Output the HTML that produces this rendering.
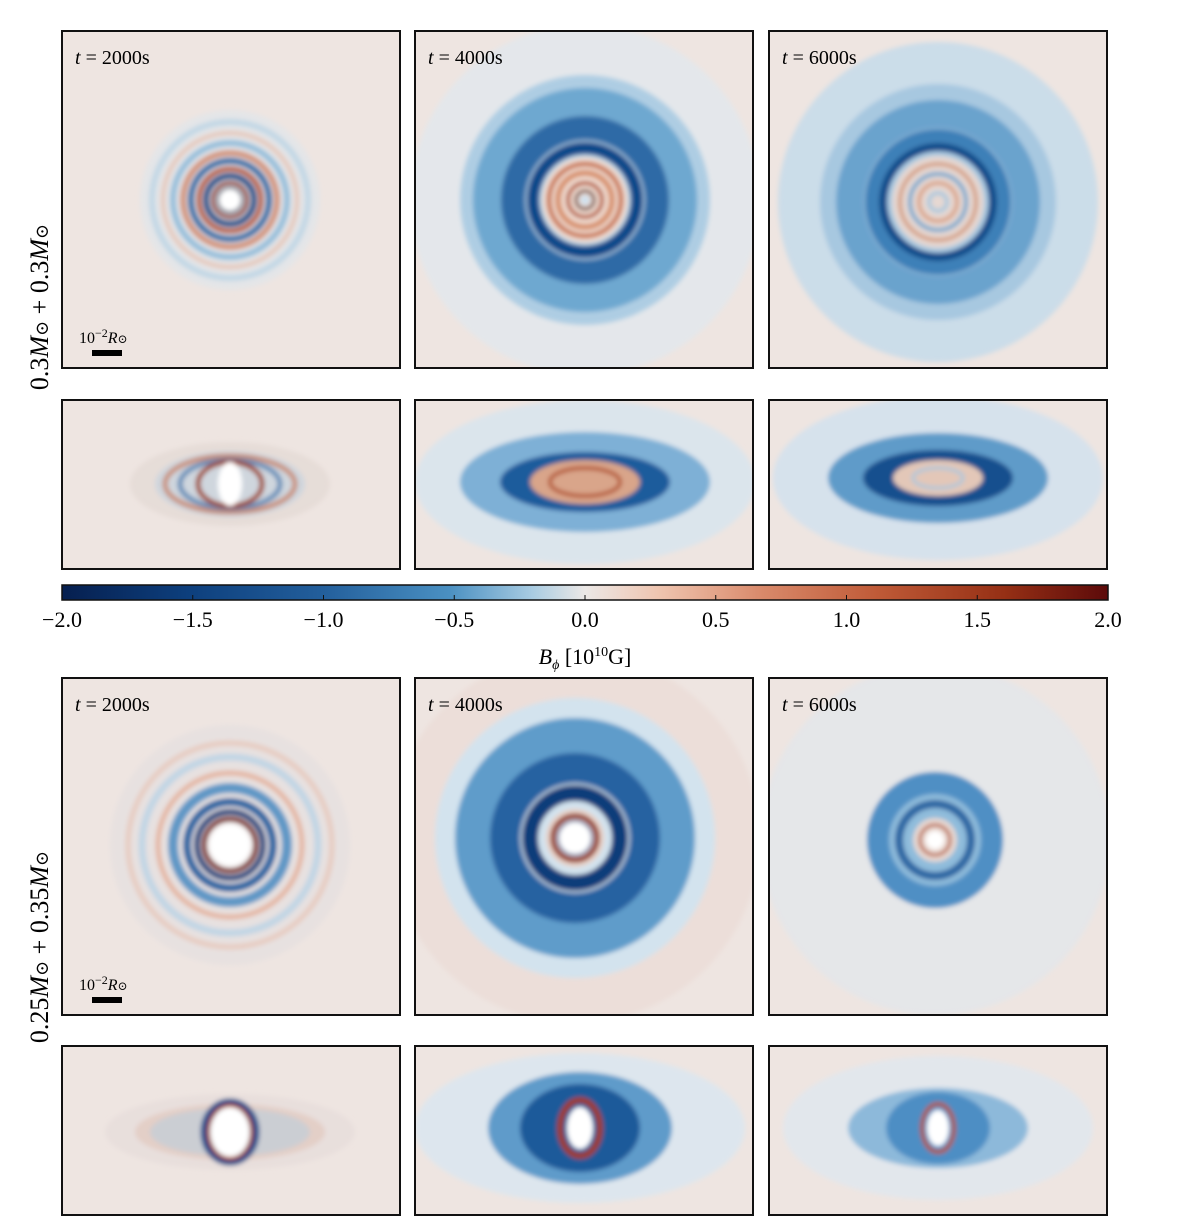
<!DOCTYPE html>
<html><head><meta charset="utf-8">
<style>
html,body{margin:0;padding:0;background:#fff;}
svg{display:block;font-family:"Liberation Serif","DejaVu Serif",serif;}
</style></head>
<body>
<svg id="fig" width="1200" height="1231" viewBox="0 0 1200 1231" xmlns="http://www.w3.org/2000/svg">
<defs>
<filter id="soft" x="-20%" y="-20%" width="140%" height="140%"><feGaussianBlur stdDeviation="2.5"/></filter>
<linearGradient id="cmap" x1="0" x2="1" y1="0" y2="0">
<stop offset="0" stop-color="#061f4f"/><stop offset="0.12" stop-color="#0d3f7d"/>
<stop offset="0.25" stop-color="#235f9c"/><stop offset="0.37" stop-color="#4a90c2"/>
<stop offset="0.45" stop-color="#a9cce2"/><stop offset="0.5" stop-color="#ece8e6"/>
<stop offset="0.57" stop-color="#efc5b0"/><stop offset="0.67" stop-color="#d9896a"/>
<stop offset="0.78" stop-color="#bf5a37"/><stop offset="0.9" stop-color="#963015"/>
<stop offset="1" stop-color="#5c0a0a"/>
</linearGradient>
</defs>
<g id="panels"></g>
<g id="cbar"></g>
<text transform="translate(48,307) rotate(-90)" text-anchor="middle" font-size="26"><tspan>0.3</tspan><tspan font-style="italic">M</tspan><tspan font-size="18">⊙</tspan><tspan> + 0.3</tspan><tspan font-style="italic">M</tspan><tspan font-size="18">⊙</tspan></text>
<text transform="translate(48,947) rotate(-90)" text-anchor="middle" font-size="26"><tspan>0.25</tspan><tspan font-style="italic">M</tspan><tspan font-size="18">⊙</tspan><tspan> + 0.35</tspan><tspan font-style="italic">M</tspan><tspan font-size="18">⊙</tspan></text>
</svg>
<script>
const cbTicks=[-2.0,-1.5,-1.0,-0.5,0.0,0.5,1.0,1.5,2.0];
const cbTickLabels=["−2.0","−1.5","−1.0","−0.5","0.0","0.5","1.0","1.5","2.0"];
const cbMin=-2, cbMax=2;
const timeLabels=["2000s","4000s","6000s"];
const NS="http://www.w3.org/2000/svg";
function mk(tag,attrs,parent){const e=document.createElementNS(NS,tag);for(const k in attrs)e.setAttribute(k,attrs[k]);if(parent)parent.appendChild(e);return e;}
const colX=[62,415,769], W=338;
const rows=[{y:31,h:337,face:true,t:0},{y:400,h:169,face:false,t:0},{y:678,h:337,face:true,t:1},{y:1046,h:169,face:false,t:1}];
const specs=[
 [ {c:[230,200],r:[[90,90,"#dde6ec",0,.6],[78,78,"#b9d3e6",6,.8],[67,67,"#e6c3b4",5,.8],[57,57,"#8cb8d8",6,.9],[47,47,"#d08a6e",6,.9],[39,39,"#2d6aa5",6,1],[31,31,"#b5532f",5,1],[24,24,"#1f4f8a",6,1],[17,17,"#8c2d1a",4,1],[11,11,"#ffffff",0,1],[12,12,"#0b2350",2,1]]},
   {c:[585,200],r:[[175,175,"#dfe8ef",0,.7],[125,125,"#aacbe2",0,.9],[98,98,"#6ea8d0",28,1],[72,72,"#2d6aa6",24,1],[52,52,"#0b4a8a",12,1],[43,43,"#f0ddd2",0,1],[36,36,"#c8714b",5,1],[27,27,"#d78f6a",6,1],[17,17,"#b4532f",4,1],[9,9,"#5a1a10",3,1],[5,5,"#cfe1ee",0,1]]},
   {c:[938,202],r:[[160,160,"#c8dbea",0,.9],[118,118,"#a7c8e0",0,1],[88,88,"#6aa3cd",28,1],[66,66,"#3e80b8",14,1],[55,55,"#0f4c8a",8,1],[46,46,"#e6d8d2",0,1],[38,38,"#d39b80",4,1],[28,28,"#6fa5cd",4,1],[19,19,"#d9a085",4,1],[9,9,"#a9c8de",4,1]]} ],
 [ {c:[230,484],r:[[100,42,"#e6dcd7",0,.9],[75,33,"#b9d0e3",0,.5],[65,28,"#c7704f",5,.7],[50,24,"#3a6fa8",5,.7],[32,22,"#9b3a20",5,.9],[12,22,"#ffffff",0,1]]},
   {c:[585,482],r:[[170,82,"#d8e5ee",0,.85],[125,50,"#7eb0d6",0,1],[85,30,"#1f5c9c",0,1],[55,22,"#d9a58a",0,1],[35,14,"#b65a38",4,1]]},
   {c:[938,478],r:[[165,82,"#d2e2ee",0,.85],[110,45,"#5f9bc9",0,1],[75,28,"#134f8e",0,1],[45,18,"#e3c7b8",0,1],[25,10,"#a8c7de",3,1]]} ],
 [ {c:[230,845],r:[[120,120,"#e6e0e0",0,.8],[102,102,"#e7c2b2",5,.7],[88,88,"#b8d2e6",7,.8],[72,72,"#e3a98f",5,.8],[57,57,"#5f97c6",10,1],[43,43,"#2c66a3",8,1],[33,33,"#0d3f7d",6,1],[26,26,"#7a1e12",5,1],[21,21,"#ffffff",0,1]]},
   {c:[575,838],r:[[185,185,"#ebdcd5",0,.7],[140,140,"#d3e3ee",0,1],[102,102,"#5f9cca",36,1],[70,70,"#2862a1",30,1],[45,45,"#083d7a",16,1],[29,29,"#e9d0c4",0,1],[22,22,"#8e2a17",5,1],[16,16,"#ffffff",0,1],[17,17,"#2a5f9e",2,1]]},
   {c:[935,840],r:[[175,175,"#dfe7ee",0,.6],[68,68,"#4f8fc4",0,1],[46,46,"#8fbcdb",0,1],[36,36,"#2a66a3",8,1],[22,22,"#e9d9d2",0,1],[15,15,"#b4532f",3,1],[9,9,"#ffffff",0,1]]} ],
 [ {c:[230,1132],r:[[125,38,"#e8dedb",0,.9],[95,28,"#e0c0b2",0,.5],[80,24,"#b3cde0",0,.5],[26,30,"#1a4f8f",7,1],[22,27,"#a33a1e",3,1],[19,24,"#ffffff",0,1]]},
   {c:[580,1128],r:[[165,75,"#dce7ef",0,.9],[92,56,"#5e9bca",0,1],[60,44,"#1e5a9a",0,1],[20,28,"#a03a20",6,1],[13,21,"#ffffff",0,1]]},
   {c:[938,1128],r:[[155,72,"#e0e8ee",0,.85],[90,40,"#8db9da",0,1],[52,36,"#4e8ec4",0,1],[16,24,"#b4532f",4,1],[11,18,"#ffffff",0,1]]} ]
];
const pg=document.getElementById('panels');
rows.forEach((row,ri)=>{
 colX.forEach((x,ci)=>{
  const g=mk('g',{},pg);
  
  
  const cid='clip'+ri+ci;
  const cp=mk('clipPath',{id:cid},g);mk('rect',{x:x,y:row.y,width:W,height:row.h},cp);
  const inner=mk('g',{'clip-path':'url(#'+cid+')'},g);
  mk('rect',{x:x,y:row.y,width:W,height:row.h,fill:'#eee5e1'},inner);
  const sp=specs[ri][ci];
  const fg=mk('g',{filter:'url(#soft)'},inner);
  sp.r.forEach(s=>{
   const e=mk('ellipse',{cx:sp.c[0],cy:sp.c[1],rx:s[0],ry:s[1],opacity:s[4]},fg);
   if(s[3]>0){e.setAttribute('fill','none');e.setAttribute('stroke',s[2]);e.setAttribute('stroke-width',s[3]);}
   else e.setAttribute('fill',s[2]);
   
   
  });
  const fr=mk('rect',{x:x,y:row.y,width:W,height:row.h,fill:'none',stroke:'#111','stroke-width':2},g);
  
  
  if(row.face){
   const t=mk('text',{x:x+13,y:row.y+33,'font-size':20},g);
   
   
   t.innerHTML='<tspan font-style="italic">t</tspan> = '+timeLabels[ci];
   if(ci===0){
    const sl=mk('text',{x:x+17,y:row.y+312,'font-size':16},g);
    
    
    sl.innerHTML='10<tspan dy="-6" font-size="12">−2</tspan><tspan dy="6" font-style="italic">R</tspan><tspan font-size="12">⊙</tspan>';
    const sb=mk('rect',{x:x+30,y:row.y+319,width:30,height:6,fill:'#000'},g);
    
    
   }
  }
 });
});
const cb=document.getElementById('cbar');
const cbX0=62,cbX1=1108,cbY=585,cbH=15;
function xs(v){return cbX0+(v-cbMin)/(cbMax-cbMin)*(cbX1-cbX0);}
mk('rect',{x:cbX0,y:cbY,width:cbX1-cbX0,height:cbH,fill:'url(#cmap)',stroke:'#111','stroke-width':1.5},cb);
cbTicks.forEach((v,i)=>{
 const tk=mk('line',{x1:xs(v),x2:xs(v),y1:cbY+cbH-5,y2:cbY+cbH,stroke:'#111','stroke-width':1},cb);
 
 
 const tl=mk('text',{x:xs(v),y:627,'font-size':22,'text-anchor':'middle'},cb);
 
 
 tl.textContent=cbTickLabels[i];
});
const ct=mk('text',{x:585,y:664,'font-size':22,'text-anchor':'middle'},cb);


ct.innerHTML='<tspan font-style="italic">B</tspan><tspan font-size="14" dy="5" font-style="italic">ϕ</tspan><tspan dy="-5"> [10</tspan><tspan font-size="14" dy="-8">10</tspan><tspan dy="8">G]</tspan>';
</script>
</body></html>
